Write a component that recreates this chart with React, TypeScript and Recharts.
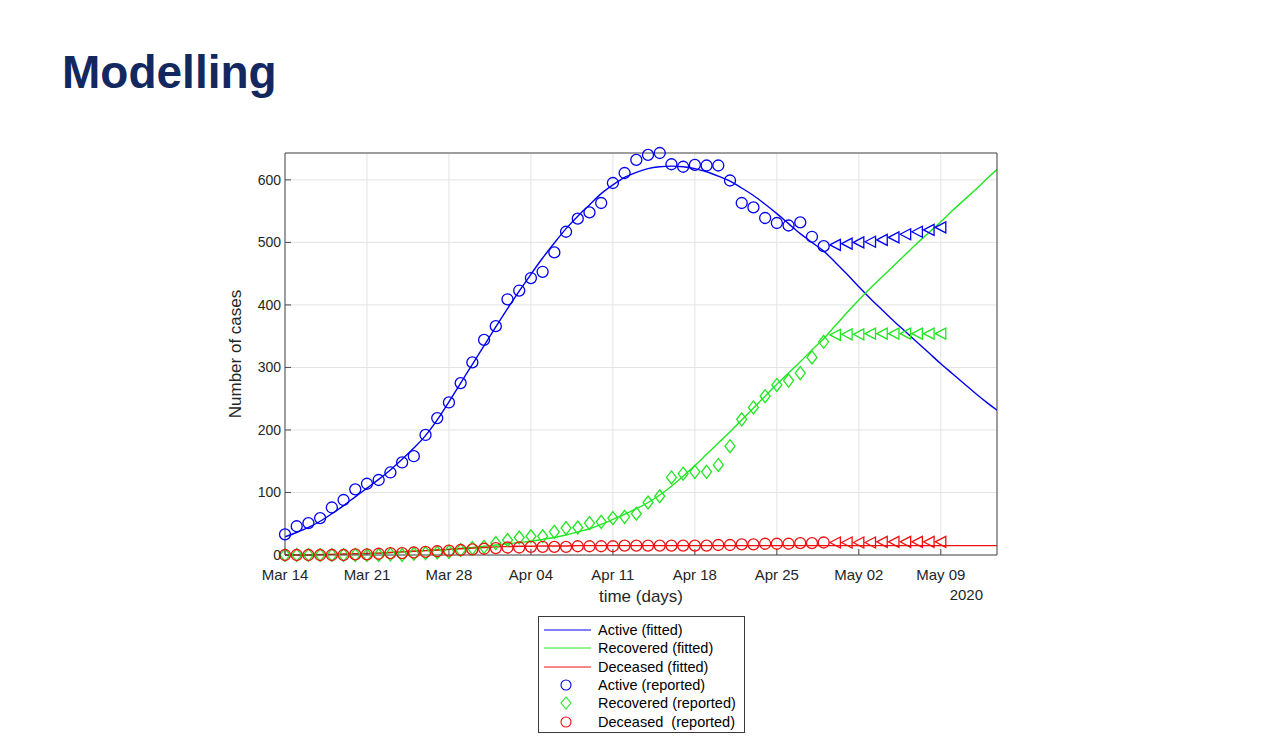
import React from 'react';
import {
  ComposedChart, Line, Scatter, XAxis, YAxis, CartesianGrid, Legend,
} from 'recharts';

// ---- data ----
const tickDays = [0, 7, 14, 21, 28, 35, 42, 49, 56];
const tickLabels = ['Mar 14', 'Mar 21', 'Mar 28', 'Apr 04', 'Apr 11', 'Apr 18', 'Apr 25', 'May 02', 'May 09'];
const yTicks = [0, 100, 200, 300, 400, 500, 600];

// fitted curves, day 0 (Mar 14) .. day 61
const activeFit = [
  29, 36, 44, 54, 66, 79, 93, 107, 121, 136,
  153, 171, 191, 216, 245, 275, 305, 335, 365, 394,
  422, 449, 475, 499, 522, 542, 560, 578, 592, 604,
  612, 618, 621, 622, 621, 618, 613, 606, 598, 587,
  575, 561, 546, 530, 514, 500, 486, 468, 449, 429,
  410, 392, 374, 357, 340, 323, 306, 290, 274, 258,
  243, 229,
];
const recoveredFit = [
  0, 0, 0, 1, 1, 1, 2, 2, 3, 4,
  5, 6, 7, 8, 9, 11, 12, 14, 16, 18,
  20, 22, 25, 28, 32, 37, 42, 49, 57, 65,
  74, 84, 96, 110, 126, 143, 161, 179, 197, 216,
  235, 254, 273, 291, 309, 328, 346, 367, 388, 408,
  427, 445, 463, 481, 499, 516, 533, 551, 568, 585,
  603, 620,
];
const deceasedFit = [
  0, 0, 0, 0.5, 1, 1.5, 2, 2.5, 3, 4,
  5, 6, 7, 8, 9, 10, 11, 12, 13, 13.5,
  14, 14, 14.5, 14.5, 14.5, 15, 15, 15, 15, 15,
  15, 15, 15, 15, 15, 15, 15, 15, 15, 15,
  15, 15, 15, 15, 15, 15, 15, 15, 15, 15,
  15, 15, 15, 15, 15, 15, 15, 15, 15, 15,
  15, 15,
];

// reported values, day 0 .. day 46 (circles / diamonds)
const activeReported = [
  33, 46, 51, 59, 76, 88, 105, 114, 120, 132,
  148, 158, 192, 219, 244, 275, 308, 344, 366, 409,
  423, 443, 453, 484, 517, 538, 548, 563, 595, 611,
  632, 640, 643, 625, 621, 624, 623, 623, 599, 563,
  556, 539, 531, 527, 532, 509, 494,
];
const recoveredReported = [
  0, 0, 0, 0, 0, 0, 0, 0, 0, 1,
  0, 2, 3, 4, 5, 8, 11, 13, 19, 24,
  28, 30, 30, 37, 43, 44, 51, 53, 59, 61,
  66, 84, 94, 124, 130, 133, 133, 144, 174, 217,
  236, 254, 272, 279, 291, 316, 341,
];
const deceasedReported = [
  0, 0, 0, 0, 0, 0, 1, 1, 2, 3,
  3, 4, 5, 6, 7, 8, 9, 10, 11, 12,
  12, 13, 13, 13, 13, 14, 14, 14, 14, 15,
  15, 15, 15, 15, 15, 15, 15, 16, 16, 17,
  17, 18, 18, 18, 19, 19, 20,
];
// reported values, day 47 .. day 56 (triangles)
const activeLater = [496, 498, 500, 501, 504, 508, 513, 517, 520, 524];
const recoveredLater = [352, 353, 353, 354, 354, 354, 354, 354, 354, 354];
const deceasedLater = [20, 20, 20, 20, 21, 21, 21, 21, 21, 21];

const LATER_START = 47;

// ---- styles ----
const BLUE = '#0000f0';
const GREEN = '#22e622';
const RED = '#f01010';
const FONT = "'Liberation Sans', Arial, Helvetica, sans-serif";
const TEXT = '#262626';
const AXIS = '#4a4a4a';

const fitData = activeFit.map((v, i) => ({
  day: i, active: v, recovered: recoveredFit[i], deceased: deceasedFit[i],
}));
const pts = (arr: number[], start: number) => arr.map((v, i) => ({ day: start + i, v }));

const circleShape = (color: string) => (p: any) => (
  <circle cx={p.cx} cy={p.cy} r={5.5} fill="none" stroke={color} strokeWidth={1.3} />
);
const diamondShape = (color: string) => (p: any) => (
  <polygon
    points={`${p.cx},${p.cy - 6.5} ${p.cx + 5},${p.cy} ${p.cx},${p.cy + 6.5} ${p.cx - 5},${p.cy}`}
    fill="none" stroke={color} strokeWidth={1.3}
  />
);
const triShape = (color: string) => (p: any) => (
  <polygon
    points={`${p.cx - 5.5},${p.cy} ${p.cx + 5},${p.cy - 5.5} ${p.cx + 5},${p.cy + 5.5}`}
    fill="none" stroke={color} strokeWidth={1.3}
  />
);

const legendRows = [
  { label: 'Active (fitted)', color: BLUE, kind: 'line' },
  { label: 'Recovered (fitted)', color: GREEN, kind: 'line' },
  { label: 'Deceased (fitted)', color: RED, kind: 'line' },
  { label: 'Active (reported)', color: BLUE, kind: 'circle' },
  { label: 'Recovered (reported)', color: GREEN, kind: 'diamond' },
  { label: 'Deceased  (reported)', color: RED, kind: 'circle' },
];

const renderLegend = () => (
  <div
    style={{
      width: 207, height: 117, boxSizing: 'border-box', border: '1px solid #3a3a3a',
      background: '#fff', paddingTop: 4, fontFamily: FONT, fontSize: 14.5, color: '#000',
    }}
  >
    {legendRows.map((r) => (
      <div key={r.label} style={{ display: 'flex', alignItems: 'center', height: 18.3 }}>
        <svg width={56} height={18} style={{ flex: 'none' }}>
          {r.kind === 'line' && <line x1={5} x2={52} y1={9} y2={9} stroke={r.color} strokeWidth={1} />}
          {r.kind === 'circle' && <circle cx={27} cy={9} r={5} fill="none" stroke={r.color} strokeWidth={1.1} />}
          {r.kind === 'diamond' && (
            <polygon points="27,3 32,9 27,15 22,9" fill="none" stroke={r.color} strokeWidth={1.1} />
          )}
        </svg>
        <span style={{ marginLeft: 3, whiteSpace: 'pre' }}>{r.label}</span>
      </div>
    ))}
  </div>
);

const xLabel = (props: any) => {
  const vb = props.viewBox || {};
  const cx = vb.x + vb.width / 2;
  return (
    <g>
      <text x={cx} y={602} textAnchor="middle" fontFamily={FONT} fontSize={17} fill={TEXT}>time (days)</text>
      <text x={983} y={600} textAnchor="end" fontFamily={FONT} fontSize={15} fill={TEXT}>2020</text>
    </g>
  );
};
const yLabel = (props: any) => {
  const vb = props.viewBox || {};
  const cy = vb.y + vb.height / 2;
  const x = 241;
  return (
    <text x={x} y={cy} transform={`rotate(-90 ${x} ${cy})`} textAnchor="middle"
      fontFamily={FONT} fontSize={17} fill={TEXT}>Number of cases</text>
  );
};

const DOMAIN_X: [number, number] = [0, 60.8];
const DOMAIN_Y: [number, number] = [0, 643];

export default function App() {
  return (
    <div style={{ position: 'absolute', left: 0, top: 0, width: 1280, height: 753, background: '#fff' }}>
      <div
        style={{
          position: 'absolute', left: 62, top: 49, fontFamily: FONT, fontWeight: 700,
          fontSize: 46, lineHeight: '46px', color: '#13285f', zIndex: 2,
        }}
      >
        Modelling
      </div>
      <ComposedChart
        width={1280}
        height={753}
        margin={{ top: 152, right: 282, bottom: 138, left: 225 }}
      >
        <CartesianGrid stroke="#e3e3e3" strokeWidth={1} />
        <XAxis
          dataKey="day" type="number" domain={DOMAIN_X} allowDataOverflow
          ticks={tickDays} tickFormatter={(v: number) => tickLabels[tickDays.indexOf(v)] ?? ''}
          height={60} tickSize={-6} tickMargin={20}
          stroke={AXIS} tick={{ fill: TEXT, fontFamily: FONT, fontSize: 15 }}
          label={{ content: xLabel }}
        />
        <XAxis
          xAxisId="top" orientation="top" dataKey="day" type="number" domain={DOMAIN_X}
          ticks={tickDays} height={1} tickSize={-6} tick={false} stroke={AXIS}
        />
        <YAxis
          type="number" domain={DOMAIN_Y} ticks={yTicks} width={60}
          tickSize={-6} tickMargin={10} stroke={AXIS}
          tick={{ fill: TEXT, fontFamily: FONT, fontSize: 14 }}
          label={{ content: yLabel }}
        />
        <YAxis
          yAxisId="right" orientation="right" type="number" domain={DOMAIN_Y}
          ticks={yTicks} width={1} tickSize={-6} tick={false} stroke={AXIS}
        />
        <Legend
          content={renderLegend}
          layout="vertical" verticalAlign="middle" align="center"
          wrapperStyle={{ left: 538, top: 616, width: 207, height: 117 }}
        />
        <Line data={fitData} dataKey="active" type="monotone" stroke={BLUE} strokeWidth={1.4} dot={false} isAnimationActive={false} />
        <Line data={fitData} dataKey="recovered" type="monotone" stroke={GREEN} strokeWidth={1.4} dot={false} isAnimationActive={false} />
        <Line data={fitData} dataKey="deceased" type="monotone" stroke={RED} strokeWidth={1.4} dot={false} isAnimationActive={false} />
        <Scatter xAxisId="top" yAxisId="right" data={pts(activeReported, 0)} dataKey="v" shape={circleShape(BLUE)} isAnimationActive={false} />
        <Scatter xAxisId="top" yAxisId="right" data={pts(recoveredReported, 0)} dataKey="v" shape={diamondShape(GREEN)} isAnimationActive={false} />
        <Scatter xAxisId="top" yAxisId="right" data={pts(deceasedReported, 0)} dataKey="v" shape={circleShape(RED)} isAnimationActive={false} />
        <Scatter xAxisId="top" yAxisId="right" data={pts(activeLater, LATER_START)} dataKey="v" shape={triShape(BLUE)} isAnimationActive={false} />
        <Scatter xAxisId="top" yAxisId="right" data={pts(recoveredLater, LATER_START)} dataKey="v" shape={triShape(GREEN)} isAnimationActive={false} />
        <Scatter xAxisId="top" yAxisId="right" data={pts(deceasedLater, LATER_START)} dataKey="v" shape={triShape(RED)} isAnimationActive={false} />
      </ComposedChart>
    </div>
  );
}
